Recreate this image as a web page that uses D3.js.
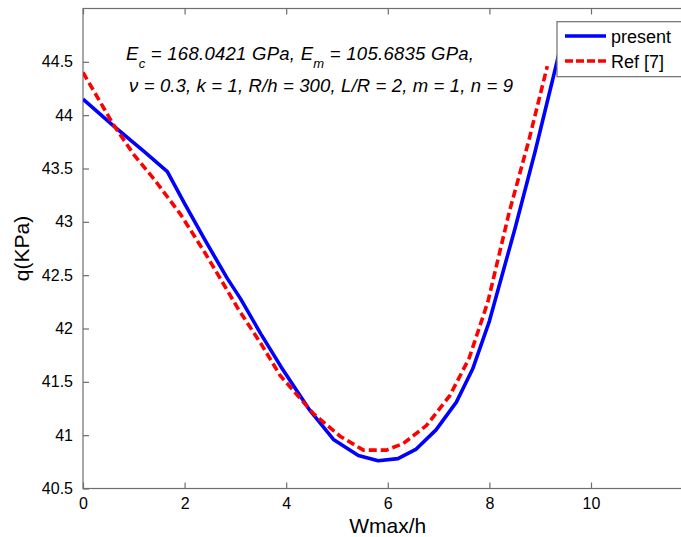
<!DOCTYPE html>
<html>
<head>
<meta charset="utf-8">
<script src="https://cdn.jsdelivr.net/npm/d3@7"></script>
<style>
  html, body { margin: 0; padding: 0; background: #fff; }
  svg { display: block; font-family: "Liberation Sans", Arial, sans-serif; }
</style>
</head>
<body>
<svg id="chart" width="681" height="537"></svg>
<script>
// ---- data ----
const xTicks = [0, 2, 4, 6, 8, 10];
const yTicks = [40.5, 41, 41.5, 42, 42.5, 43, 43.5, 44, 44.5];

const presentX = [0, 0.6, 1.2, 1.66, 2.0, 2.4, 2.84, 3.1, 3.5, 3.9, 4.47, 4.93, 5.42, 5.81, 6.2, 6.56, 6.95, 7.35, 7.67, 8.0, 8.5, 8.9, 9.3, 9.42];
const presentQ = [44.15, 43.90, 43.66, 43.47, 43.17, 42.83, 42.47, 42.28, 41.95, 41.64, 41.23, 40.96, 40.81, 40.76, 40.78, 40.87, 41.05, 41.31, 41.62, 42.07, 42.93, 43.66, 44.44, 44.68];

const refX = [0, 0.6, 1.0, 1.4, 1.92, 2.4, 2.7, 3.06, 3.5, 3.88, 4.54, 5.06, 5.52, 5.97, 6.3, 6.76, 7.22, 7.6, 7.97, 8.39, 8.78, 9.14];
const refQ = [44.40, 43.91, 43.63, 43.40, 43.07, 42.71, 42.47, 42.18, 41.86, 41.56, 41.20, 40.99, 40.86, 40.86, 40.92, 41.09, 41.37, 41.72, 42.25, 43.09, 43.77, 44.46];

const seriesNames = ["present", "Ref [7]"];
const xLabel = "Wmax/h";
const yLabel = "q(KPa)";

// ---- layout ----
const svg = d3.select("#chart");
const mLeft = 83, mTop = 8.5, plotW = 609.6, plotH = 480;
const x = d3.scaleLinear().domain([0, 12]).range([mLeft, mLeft + plotW]);
const y = d3.scaleLinear().domain([40.5, 45]).range([mTop + plotH, mTop]);
const axisColor = "#6e6e6e";

svg.append("clipPath").attr("id", "clip")
  .append("rect").attr("x", mLeft).attr("y", mTop).attr("width", plotW).attr("height", plotH);

// box
svg.append("rect").attr("x", mLeft).attr("y", mTop).attr("width", plotW).attr("height", plotH)
  .attr("fill", "none").attr("stroke", axisColor).attr("stroke-width", 1.2);

function styleAxis(g) {
  g.select(".domain").remove();
  g.selectAll(".tick line").attr("stroke", axisColor).attr("stroke-width", 1.2);
  g.selectAll(".tick text").attr("fill", "#000").attr("font-size", 16)
    .attr("font-family", "'Liberation Sans', Arial, sans-serif");
}

svg.append("g").attr("transform", `translate(0,${mTop + plotH})`)
  .call(d3.axisBottom(x).tickValues(xTicks).tickFormat(d3.format("d")).tickSize(-6).tickSizeOuter(0).tickPadding(9.5))
  .call(styleAxis);
svg.append("g").attr("transform", `translate(0,${mTop})`)
  .call(d3.axisTop(x).tickValues(xTicks).tickFormat("").tickSize(-6).tickSizeOuter(0))
  .call(styleAxis);
svg.append("g").attr("transform", `translate(${mLeft},0)`)
  .call(d3.axisLeft(y).tickValues(yTicks).tickFormat(d => String(d)).tickSize(-6).tickSizeOuter(0).tickPadding(10))
  .call(styleAxis);
svg.append("g").attr("transform", `translate(${mLeft + plotW},0)`)
  .call(d3.axisRight(y).tickValues(yTicks).tickFormat("").tickSize(-6).tickSizeOuter(0))
  .call(styleAxis);

// axis labels
svg.append("text").attr("x", x(6)).attr("y", 533).attr("text-anchor", "middle")
  .attr("font-size", 21).attr("fill", "#000").text(xLabel);
svg.append("text").attr("transform", `translate(29,${y(42.75)}) rotate(-90)`)
  .attr("text-anchor", "middle").attr("font-size", 21).attr("fill", "#000").text(yLabel);

// lines
const line = d3.line().x(d => x(d[0])).y(d => y(d[1]));
const plot = svg.append("g").attr("clip-path", "url(#clip)");
plot.append("path").datum(presentX.map((v, i) => [v, presentQ[i]]))
  .attr("d", line).attr("fill", "none").attr("stroke", "#0000ff").attr("stroke-width", 3.6)
  .attr("stroke-linejoin", "round");
plot.append("path").datum(refX.map((v, i) => [v, refQ[i]]))
  .attr("d", line).attr("fill", "none").attr("stroke", "#ff0000").attr("stroke-width", 3.6)
  .attr("stroke-dasharray", "8,4");

// annotation
const ann = svg.append("g").attr("font-style", "italic").attr("font-size", 18.5).attr("fill", "#000");
const t1 = ann.append("text").attr("x", 126).attr("y", 60);
t1.append("tspan").text("E");
t1.append("tspan").attr("font-size", 13).attr("dy", 8).text("c");
t1.append("tspan").attr("dy", -8).text(" = 168.0421 GPa, E");
t1.append("tspan").attr("font-size", 13).attr("dy", 8).text("m");
t1.append("tspan").attr("dy", -8).text(" = 105.6835 GPa,");
const t2 = ann.append("text").attr("x", 129).attr("y", 92)
  .text("\u03bd = 0.3, k = 1, R/h = 300, L/R = 2, m = 1, n = 9");

function fitWidth(sel, target) {
  const n = sel.text().length;
  const w = sel.node().getComputedTextLength();
  const ls = (target - w) / Math.max(1, n - 1);
  if (Math.abs(ls) < 1.2) sel.attr("letter-spacing", ls);
}
fitWidth(t1, 348);
fitWidth(t2, 384);

// legend
const lg = svg.append("g");
lg.append("rect").attr("x", 557).attr("y", 21.7).attr("width", 140).attr("height", 55)
  .attr("fill", "#fff").attr("stroke", axisColor).attr("stroke-width", 1.2);
lg.append("line").attr("x1", 565).attr("x2", 606).attr("y1", 36).attr("y2", 36)
  .attr("stroke", "#0000ff").attr("stroke-width", 3.6);
lg.append("line").attr("x1", 565).attr("x2", 606).attr("y1", 61).attr("y2", 61)
  .attr("stroke", "#ff0000").attr("stroke-width", 3.6).attr("stroke-dasharray", "8,3");
lg.append("text").attr("x", 611).attr("y", 43).attr("font-size", 18).attr("fill", "#000").text(seriesNames[0]);
lg.append("text").attr("x", 611).attr("y", 68).attr("font-size", 18).attr("fill", "#000").text(seriesNames[1]);
</script>
</body>
</html>
